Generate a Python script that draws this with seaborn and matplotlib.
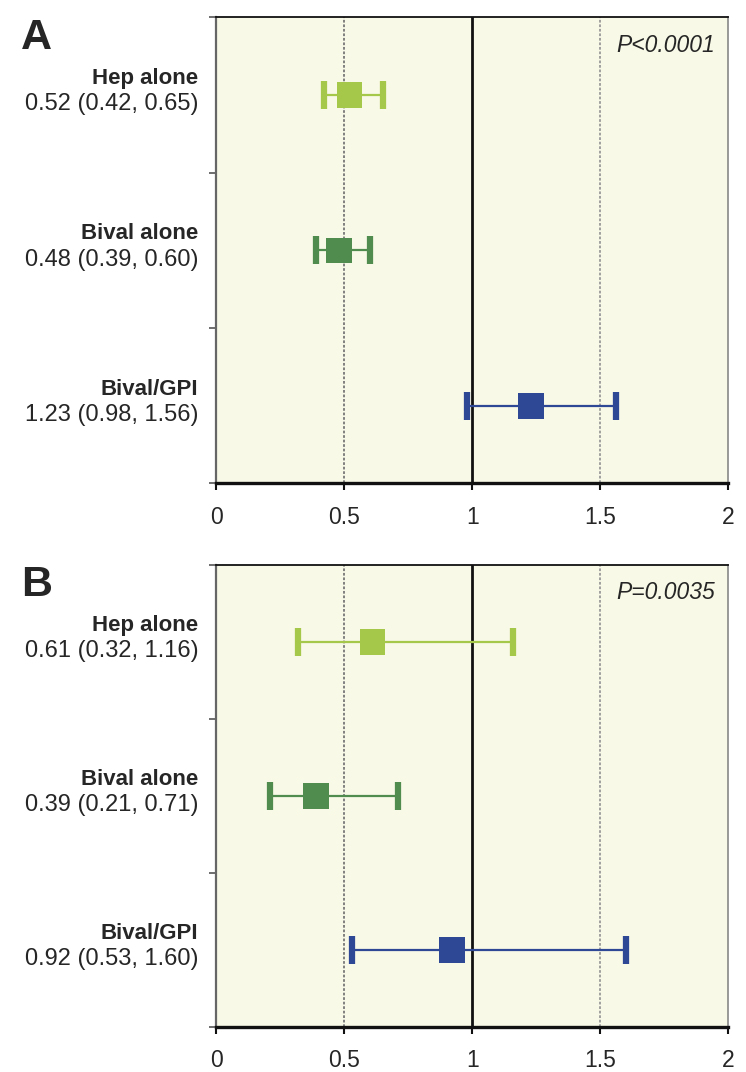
import numpy as np
import pandas as pd
import matplotlib
matplotlib.use('Agg')
import matplotlib.pyplot as plt
import matplotlib.transforms as mtransforms
import seaborn as sns

# data
groups = ['Hep alone', 'Bival alone', 'Bival/GPI']
colors = ['#a6c84a', '#4f8c4d', '#2f4896']

est_a = [0.52, 0.48, 1.23]
lo_a = [0.42, 0.39, 0.98]
hi_a = [0.65, 0.60, 1.56]

est_b = [0.61, 0.39, 0.92]
lo_b = [0.32, 0.21, 0.53]
hi_b = [1.16, 0.71, 1.60]

p_labels = ['P<0.0001', 'P=0.0035']
panel_letters = ['A', 'B']
xticks = [0, 0.5, 1, 1.5, 2]
xticklabels = ['0', '0.5', '1', '1.5', '2']

sns.set_style('white')
plt.rcParams['font.family'] = ['Liberation Sans', 'DejaVu Sans']

fig = plt.figure(figsize=(7.46, 10.72), dpi=100)
ax_a = fig.add_axes([0.290, 0.549, 0.686, 0.435])
ax_b = fig.add_axes([0.290, 0.042, 0.686, 0.431])


def forest(ax, est, lo, hi, ptxt, letter, letter_y):
    df = pd.DataFrame({'group': groups, 'pos': range(len(groups)),
                       'est': est, 'lo': lo, 'hi': hi})
    ax.set_facecolor('#f9f9e7')
    ax.axvline(0.5, color='#777777', lw=1.3, ls=(0, (1.5, 1)), zorder=1)
    ax.axvline(1.5, color='#999999', lw=1.3, ls=(0, (1.5, 1)), zorder=1)
    ax.axvline(1.0, color='#111111', lw=2.0, zorder=1)
    for i, r in df.iterrows():
        ax.errorbar(r['est'], r['pos'],
                    xerr=[[r['est'] - r['lo']], [r['hi'] - r['est']]],
                    fmt='none', ecolor=colors[i], elinewidth=1.6,
                    capsize=10, capthick=4.5, zorder=2)
    sns.scatterplot(data=df, x='est', y='pos', hue='group', palette=colors,
                    marker='s', s=340, edgecolor='none', legend=False,
                    ax=ax, zorder=3)
    ax.set_xlim(0, 2)
    ax.set_ylim(2.5, -0.5)
    ax.set_xticks(xticks)
    ax.set_xticklabels(xticklabels, fontsize=16.5)
    ax.set_yticks([-0.5, 0.5, 1.5, 2.5])
    ax.set_yticklabels([])
    ax.set_xlabel('')
    ax.set_ylabel('')
    ax.tick_params(axis='x', direction='out', length=5, width=1.5,
                   color='#111111', pad=11, bottom=True)
    ax.tick_params(axis='y', direction='out', length=5, width=1.2,
                   color='#555555', left=True)
    for side, c, w in [('bottom', '#111111', 2.4), ('top', '#111111', 1.3),
                       ('left', '#666666', 1.6), ('right', '#888888', 1.2)]:
        ax.spines[side].set_visible(True)
        ax.spines[side].set_color(c)
        ax.spines[side].set_linewidth(w)

    trans = mtransforms.blended_transform_factory(ax.transAxes, ax.transData)
    for i, r in df.iterrows():
        ax.text(-0.035, r['pos'] - 0.105, r['group'], transform=trans,
                ha='right', va='center', fontsize=16, fontweight='bold')
        ax.text(-0.035, r['pos'] + 0.06,
                f"{r['est']:.2f} ({r['lo']:.2f}, {r['hi']:.2f})",
                transform=trans, ha='right', va='center', fontsize=17)
    ax.text(0.975, 0.94, ptxt, transform=ax.transAxes, ha='right',
            va='center', fontsize=16.5, fontstyle='italic')
    fig.text(0.028, letter_y, letter, fontsize=31, fontweight='bold',
             va='top', ha='left')


forest(ax_a, est_a, lo_a, hi_a, p_labels[0], panel_letters[0], 0.983)
forest(ax_b, est_b, lo_b, hi_b, p_labels[1], panel_letters[1], 0.473)

fig.savefig('out.png', dpi=100)
